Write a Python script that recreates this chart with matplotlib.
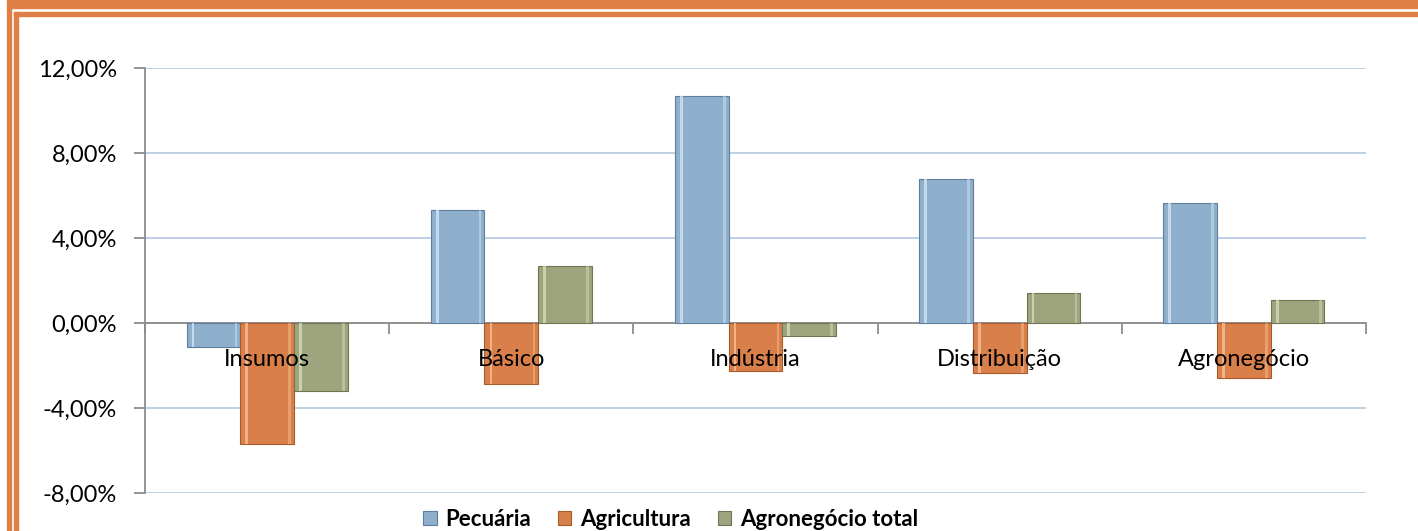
import matplotlib
matplotlib.use("Agg")
import matplotlib.pyplot as plt
from matplotlib.patches import Rectangle
from matplotlib.ticker import FuncFormatter
import numpy as np

plt.rcParams['font.family'] = ['Lato', 'DejaVu Sans']

# ---------- data ----------
categories = ["Insumos", "Básico", "Indústria", "Distribuição", "Agronegócio"]
series_names = ["Pecuária", "Agricultura", "Agronegócio total"]
pecuaria = [-1.13, 5.32, 10.68, 6.78, 5.65]
agricultura = [-5.70, -2.87, -2.26, -2.35, -2.60]
agro_total = [-3.20, 2.68, -0.60, 1.41, 1.08]
yticks = [-8, -4, 0, 4, 8, 12]

colors = ["#8FB0CD", "#D9804A", "#9DA47E"]
edges = ["#5E7E9C", "#A85A28", "#6E7550"]
highlights = ["#D2E4F4", "#F7BE96", "#D6DBB8"]

# ---------- figure ----------
W, H = 1418, 531
fig = plt.figure(figsize=(W / 100, H / 100), dpi=100)

# orange double frame (top + left visible)
orange = "#E07F45"
def fig_rect(x0, y0, x1, y1):
    fig.patches.append(Rectangle((x0 / W, 1 - y1 / H), (x1 - x0) / W, (y1 - y0) / H,
                                 transform=fig.transFigure, color=orange, zorder=0))
fig_rect(8, 0, W, 8)
fig_rect(7, 0, 11, H)
fig_rect(14, 12, W, 16)
fig_rect(14, 12, 18, H)

ax = fig.add_axes([145 / W, 1 - 493 / H, (1366 - 145) / W, (493 - 68) / H])

x = np.arange(len(categories))
bw = 0.22
for k, vals in enumerate([pecuaria, agricultura, agro_total]):
    xs = x + (k - 1) * bw
    ax.bar(xs, vals, width=bw, color=colors[k], edgecolor=edges[k],
           linewidth=0.8, zorder=3, label=series_names[k])
    # bevel highlight
    ax.bar(xs - bw * 0.38, vals, width=bw * 0.05, color=highlights[k],
           linewidth=0, zorder=4, alpha=0.8)
    ax.bar(xs + bw * 0.42, vals, width=bw * 0.05, color=highlights[k],
           linewidth=0, zorder=4, alpha=0.5)

ax.set_xlim(-0.5, len(categories) - 0.5)
ax.set_ylim(-8, 12)
ax.set_yticks(yticks)
ax.yaxis.set_major_formatter(FuncFormatter(lambda v, p: f"{v:.2f}%".replace(".", ",")))
ax.grid(axis='y', color="#B9CDE5", linewidth=1.3, zorder=0)
ax.set_axisbelow(True)

for s in ["top", "right"]:
    ax.spines[s].set_visible(False)
ax.spines["left"].set_color("#8C8C8C")
ax.spines["left"].set_linewidth(1.3)
ax.spines["bottom"].set_position(("data", 0))
ax.spines["bottom"].set_color("#8C8C8C")
ax.spines["bottom"].set_linewidth(1.3)
ax.spines["bottom"].set_zorder(2)

ax.set_xticks(np.arange(-0.5, len(categories)))
ax.set_xticklabels([])
ax.tick_params(axis='x', direction='out', length=8, color="#8C8C8C", width=1.3)
ax.tick_params(axis='y', direction='out', length=8, color="#8C8C8C", width=1.3,
               labelsize=17, pad=12)

for i, name in enumerate(categories):
    ax.annotate(name, (i, 0), xytext=(0, -26), textcoords="offset points",
                ha="center", va="center", fontsize=17, zorder=6)

ax.legend(loc="center", bbox_to_anchor=(0.473, 0.022), bbox_transform=fig.transFigure,
          ncol=3, frameon=False, prop={"weight": "bold", "size": 16},
          handlelength=0.6, handleheight=0.6, handletextpad=0.4, columnspacing=1.2,
          borderpad=0.1)

fig.savefig("out.png", dpi=100)
